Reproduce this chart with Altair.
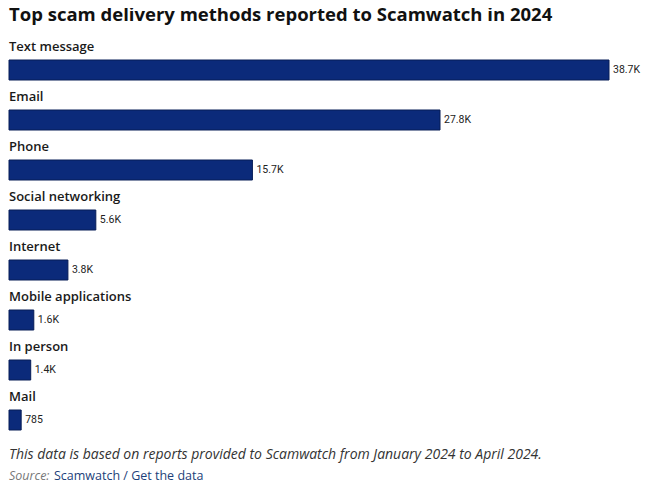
import altair as alt
import pandas as pd

categories = ["Text message", "Email", "Phone", "Social networking", "Internet",
              "Mobile applications", "In person", "Mail"]
values = [38700, 27800, 15700, 5600, 3800, 1600, 1400, 785]
value_labels = ["38.7K", "27.8K", "15.7K", "5.6K", "3.8K", "1.6K", "1.4K", "785"]

title_text = "Top scam delivery methods reported to Scamwatch in 2024"
note_text = "This data is based on reports provided to Scamwatch from January 2024 to April 2024."
source_prefix = "Source:"
source_links = "Scamwatch / Get the data"

df = pd.DataFrame({"category": categories, "value": values, "label": value_labels})

W, H = 600, 400
y_enc = alt.Y("category:N", sort=categories, axis=None,
              scale=alt.Scale(paddingInner=0.6, paddingOuter=0.3))
x_enc = alt.X("value:Q", axis=None, scale=alt.Scale(domain=[0, 38700], nice=False, zero=True))

base = alt.Chart(df)

bars = base.mark_bar(color="#0b2a7a", stroke="#061c56", strokeWidth=1).encode(
    x=x_enc, y=y_enc
)

vals = base.mark_text(align="left", baseline="middle", dx=4, fontSize=10.5,
                      font="Roboto", color="#222222").encode(x=x_enc, y=y_enc, text="label:N")

cats = base.mark_text(align="left", baseline="middle", dy=-23, fontSize=13,
                      font="Open Sans", fontWeight=600, color="#1a1a1a").encode(
    x=alt.value(0), y=y_enc, text="category:N"
)

def one_text(txt, x, y, baseline="middle", **kw):
    return alt.Chart(pd.DataFrame({"t": [txt]})).mark_text(
        align="left", baseline=baseline, **kw
    ).encode(x=alt.value(x), y=alt.value(y), text="t:N")

title = one_text(title_text, 0, -24, baseline="alphabetic", fontSize=18.5,
                 font="Open Sans", fontWeight="bold", color="#111111")
note = one_text(note_text, 0, 410, fontSize=14, font="Open Sans", fontStyle="italic", color="#333333")
src1 = one_text(source_prefix, 0, 431, fontSize=12.5, font="Open Sans", fontStyle="italic", color="#777777")
src2 = one_text(source_links, 45, 431, fontSize=12.5, font="Open Sans", color="#1d3f7a")

chart = alt.layer(bars, vals, cats, title, note, src1, src2).properties(
    width=W, height=H,
    autosize=alt.AutoSizeParams(type="none"),
    padding={"left": 1, "top": 37, "right": 32, "bottom": 40},
    background="white",
).configure_view(stroke=None, strokeWidth=0)

chart.save("out.html", embed_options={"renderer": "svg", "actions": False})
